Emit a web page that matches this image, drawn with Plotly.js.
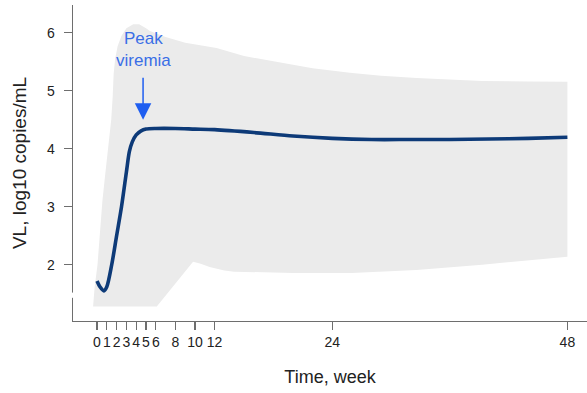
<!DOCTYPE html>
<html>
<head>
<meta charset="utf-8">
<script src="https://cdn.plot.ly/plotly-3.0.1.min.js"></script>
<style>
  html, body { margin: 0; padding: 0; background: #ffffff; }
  #chart { width: 587px; height: 393px; }
</style>
</head>
<body>
<div id="chart"></div>
<script>
// Mean viral load trajectory (log10 copies/mL) by week
const meanWeeks = [0, 0.3, 0.7, 1.0, 1.5, 2.0, 2.5, 3.0, 3.3, 3.6, 4.0, 4.5, 5, 6, 8, 10, 12, 16, 20, 24, 28, 32, 36, 40, 44, 48];
const meanVL    = [1.72, 1.62, 1.55, 1.62, 2.0, 2.5, 3.0, 3.6, 3.95, 4.12, 4.24, 4.31, 4.34, 4.35, 4.35, 4.34, 4.33, 4.28, 4.22, 4.18, 4.16, 4.16, 4.16, 4.17, 4.18, 4.2];

// Upper edge of the shaded range, left to right
const upperWeeks = [-0.4, -0.25, 0.05, 0.3, 0.55, 0.8, 1.1, 1.45, 1.6, 1.7, 1.85, 2.1, 2.5, 3.0, 3.7, 4.3, 5.0, 5.4, 7, 9, 12.2, 15, 19, 22, 25.8, 29, 32.6, 36, 39.3, 44, 48];
const upperVL    = [1.28, 1.6, 2.0, 2.6, 3.1, 3.5, 4.0, 4.5, 4.9, 5.3, 5.55, 5.77, 5.95, 6.08, 6.15, 6.15, 6.08, 6.03, 5.93, 5.83, 5.74, 5.6, 5.48, 5.39, 5.31, 5.26, 5.22, 5.19, 5.17, 5.16, 5.155];

// Lower edge of the shaded range, right to left
const lowerWeeks = [48, 44, 39.3, 32.6, 26, 20, 14, 13, 11.5, 10.5, 9.8, 6.1, 3, 0, -0.4];
const lowerVL    = [2.14, 2.07, 2.0, 1.91, 1.86, 1.86, 1.88, 1.9, 1.96, 2.02, 2.05, 1.28, 1.28, 1.28, 1.28];

// Axis ticks
const xTickVals = [0, 1, 2, 3, 4, 5, 6, 8, 10, 12, 24, 48];
const xTickText = ['0', '1', '2', '3', '4', '5', '6', '8', '10', '12', '24', '48'];
const yTickVals = [2, 3, 4, 5, 6];

// Peak viremia callout
const peakWeek = 4.7;
const peakArrowTip = 4.5;
const peakLabel = 'Peak<br>viremia';

// Gap drawn in the y-axis line (axis break)
const yBreak = [1.43, 1.52];

const band = {
  x: upperWeeks.concat(lowerWeeks),
  y: upperVL.concat(lowerVL),
  type: 'scatter',
  mode: 'lines',
  fill: 'toself',
  fillcolor: '#ebebeb',
  line: { width: 0, color: '#ebebeb' },
  hoverinfo: 'skip',
  showlegend: false
};

const mean = {
  x: meanWeeks,
  y: meanVL,
  type: 'scatter',
  mode: 'lines',
  line: { color: '#0d3a78', width: 3.6, shape: 'spline', smoothing: 0.8 },
  showlegend: false
};

const layout = {
  width: 587,
  height: 393,
  margin: { l: 73, r: 0, t: 5, b: 72 },
  paper_bgcolor: '#ffffff',
  plot_bgcolor: '#ffffff',
  font: { family: 'Liberation Sans, Arial, sans-serif', color: '#222222', size: 14 },
  showlegend: false,
  xaxis: {
    range: [-2.45, 50],
    tickmode: 'array',
    tickvals: xTickVals,
    ticktext: xTickText,
    tickangle: 0,
    ticks: 'outside',
    ticklen: 8,
    tickwidth: 1.2,
    tickcolor: '#6e6e6e',
    ticklabelstandoff: 0,
    showline: true,
    linecolor: '#6e6e6e',
    linewidth: 1.3,
    showgrid: false,
    zeroline: false,
    tickfont: { size: 14, color: '#222222' },
    title: { text: 'Time, week', font: { size: 18, color: '#222222' }, standoff: 21 }
  },
  yaxis: {
    range: [1.03, 6.48],
    tickmode: 'array',
    tickvals: yTickVals,
    ticks: 'outside',
    ticklen: 8,
    tickwidth: 1.2,
    tickcolor: '#6e6e6e',
    ticklabelstandoff: 6,
    showline: true,
    linecolor: '#6e6e6e',
    linewidth: 1.3,
    showgrid: false,
    zeroline: false,
    tickfont: { size: 14, color: '#222222' },
    title: { text: 'VL, log10 copies/mL', font: { size: 19, color: '#222222' }, standoff: 15 }
  },
  shapes: [{
    type: 'rect',
    xref: 'paper', yref: 'y',
    x0: -0.012, x1: 0.006,
    y0: yBreak[0], y1: yBreak[1],
    fillcolor: '#ffffff',
    line: { width: 0 },
    layer: 'above'
  }],
  annotations: [{
    x: peakWeek,
    y: peakArrowTip,
    xref: 'x', yref: 'y',
    text: peakLabel,
    showarrow: true,
    ax: 0,
    ay: -70,
    arrowhead: 2,
    arrowsize: 2.2,
    arrowwidth: 1.5,
    arrowcolor: '#1f5ef0',
    startstandoff: 6,
    font: { size: 17, color: '#3a6ee6' }
  }]
};

Plotly.newPlot('chart', [band, mean], layout, { displayModeBar: false, staticPlot: true });
</script>
</body>
</html>
